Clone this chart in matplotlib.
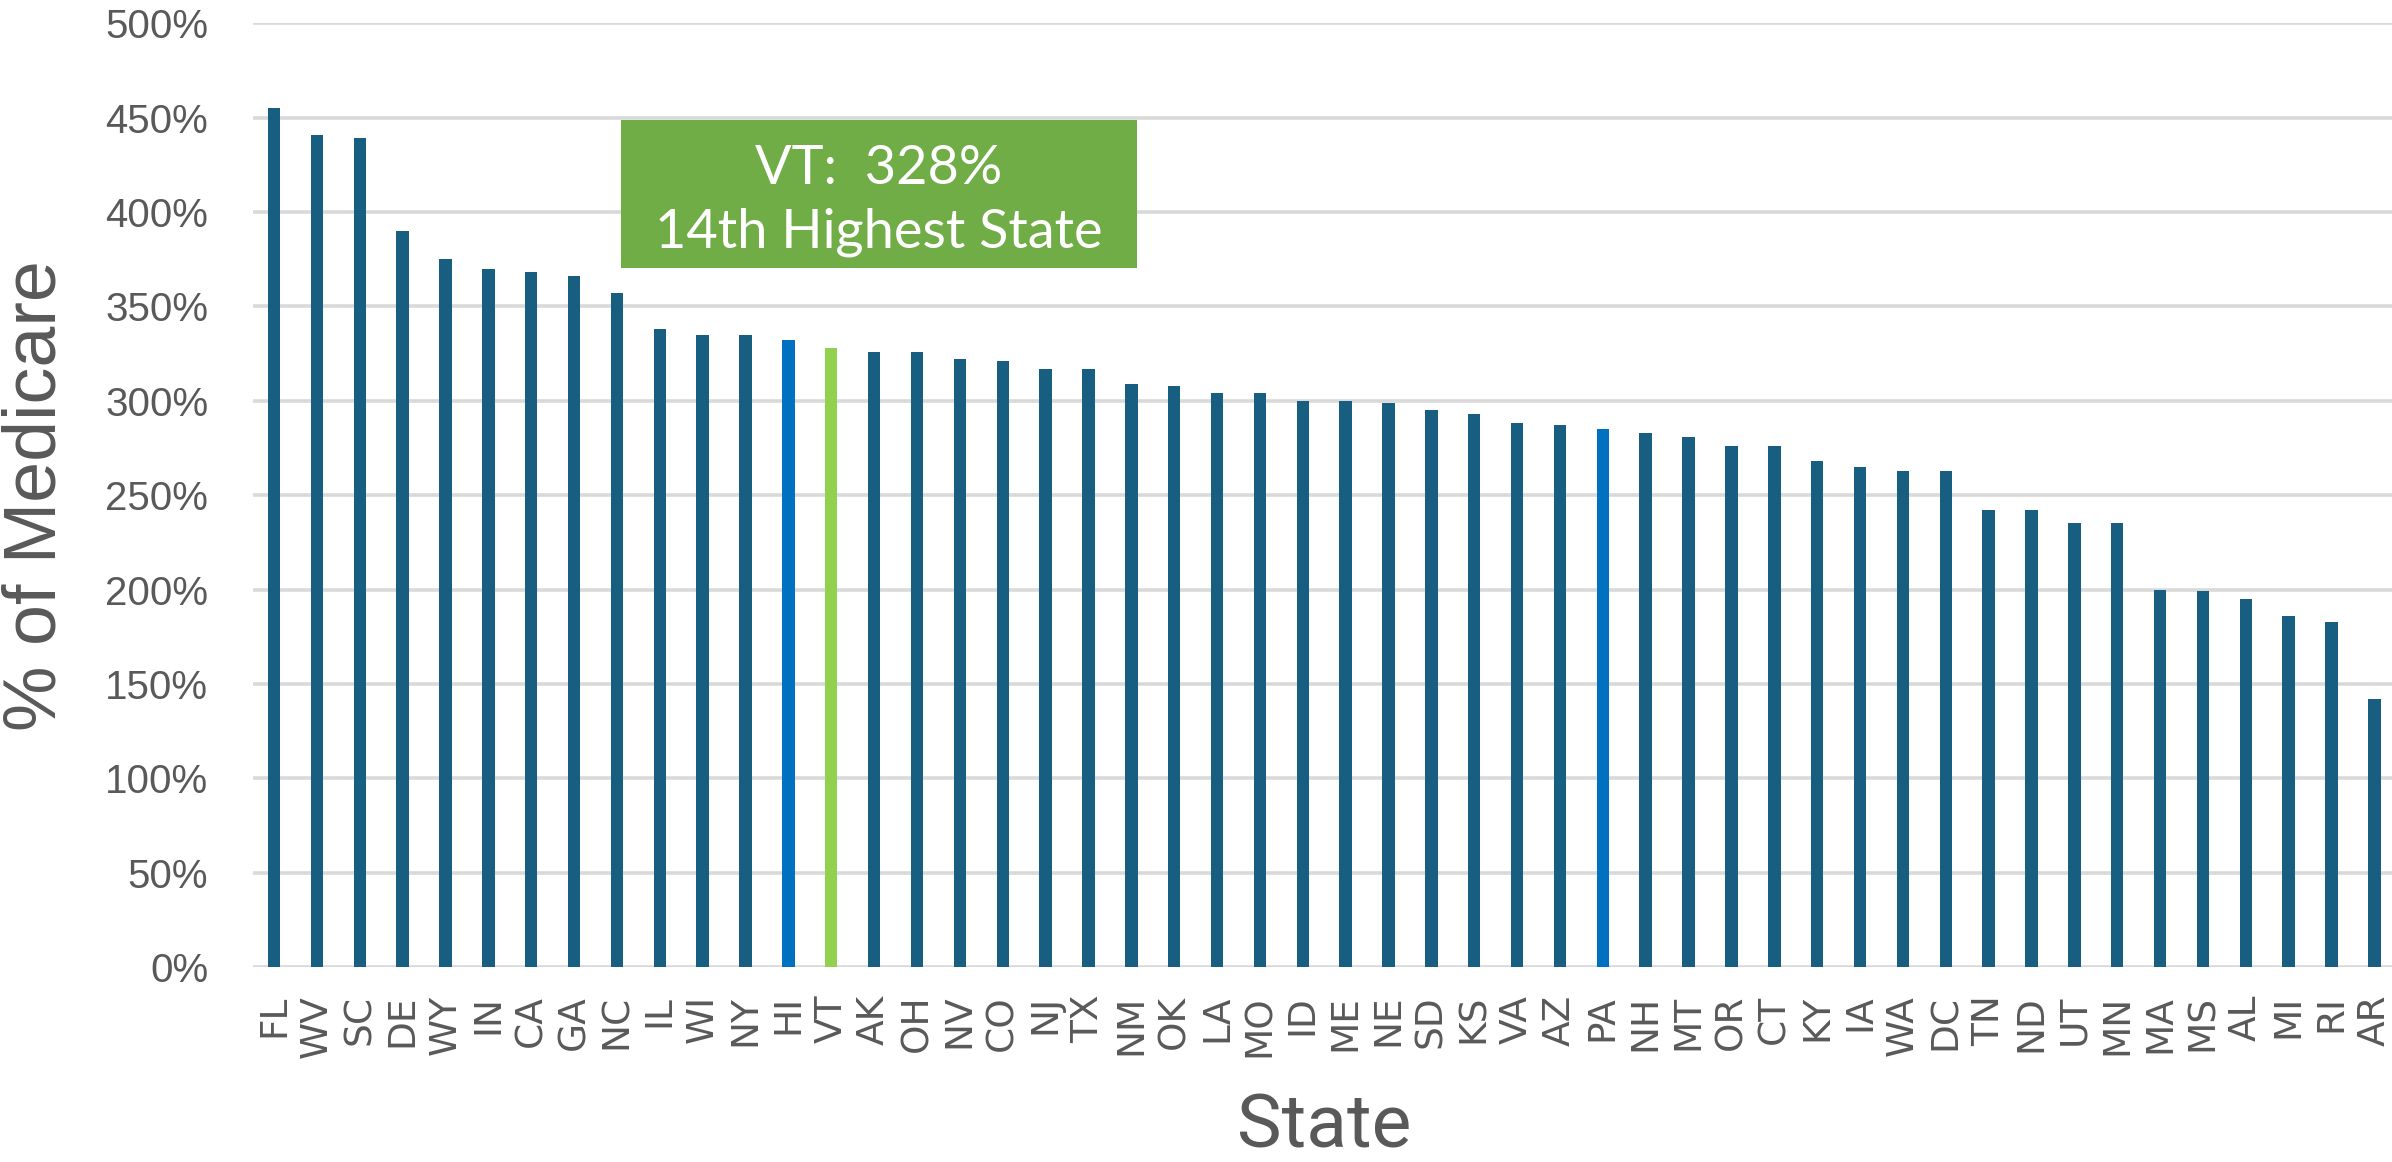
import matplotlib
matplotlib.use("Agg")
import matplotlib.pyplot as plt
from matplotlib.patches import Rectangle

# Data: % of Medicare by state
states = ['FL', 'WV', 'SC', 'DE', 'WY', 'IN', 'CA', 'GA', 'NC', 'IL', 'WI', 'NY', 'HI',
          'VT', 'AK', 'OH', 'NV', 'CO', 'NJ', 'TX', 'NM', 'OK', 'LA', 'MO', 'ID', 'ME',
          'NE', 'SD', 'KS', 'VA', 'AZ', 'PA', 'NH', 'MT', 'OR', 'CT', 'KY', 'IA', 'WA',
          'DC', 'TN', 'ND', 'UT', 'MN', 'MA', 'MS', 'AL', 'MI', 'RI', 'AR']
pct = [455, 441, 439, 390, 375, 370, 368, 366, 357, 338, 335, 335, 332,
       328, 326, 326, 322, 321, 317, 317, 309, 308, 304, 304, 300, 300,
       299, 295, 293, 288, 287, 285, 283, 281, 276, 276, 268, 265, 263,
       263, 242, 242, 235, 235, 200, 199, 195, 186, 183, 142]
highlight_blue = ['HI', 'PA']
highlight_green = ['VT']
yticks = [0, 50, 100, 150, 200, 250, 300, 350, 400, 450, 500]

dark = '#175E80'
blue = '#0070C0'
green = '#92D050'
box_green = '#70AD47'
grey = '#595959'

colors = []
for s in states:
    if s in highlight_green:
        colors.append(green)
    elif s in highlight_blue:
        colors.append(blue)
    else:
        colors.append(dark)

W, H = 2392, 1162
fig = plt.figure(figsize=(W / 100, H / 100), dpi=100)
ax = fig.add_axes([252.7 / W, (H - 967) / H, 1 - 252.7 / W, (967 - 23.3) / H])

x = list(range(len(states)))
ax.bar(x, pct, width=0.29, color=colors, zorder=3)

ax.set_xlim(-0.497, 49.41)
ax.set_ylim(0, 500)
ax.set_yticks(yticks)
ax.set_yticklabels([f'{v}%' for v in yticks], fontsize=29, color=grey,
                   family='Liberation Sans')
ax.set_xticks(x)
ax.set_xticklabels(states, rotation=90, fontsize=27, color=grey,
                   family='DejaVu Sans', va='top')
ax.tick_params(axis='y', length=0, pad=32)
ax.tick_params(axis='x', length=0, pad=20)
ax.yaxis.grid(True, color='#D9D9D9', linewidth=2.6, zorder=0)
ax.set_axisbelow(True)
for sp in ax.spines.values():
    sp.set_visible(False)

fig.text(36 / W, 1 - 496 / H, '% of Medicare', rotation=90, fontsize=53,
         color=grey, family='Liberation Sans', ha='center', va='center')
fig.text(1324 / W, 1 - 1127 / H, 'State', fontsize=54, color=grey,
         family='Roboto', ha='center', va='center')

# annotation box
box_x0, box_x1 = 8.09, 20.13
box_y0, box_y1 = 370.3, 448.9
ax.add_patch(Rectangle((box_x0, box_y0), box_x1 - box_x0, box_y1 - box_y0,
                       facecolor=box_green, edgecolor='none', zorder=5))
cx = (box_x0 + box_x1) / 2
ax.text(cx, 425.7, 'VT:  328%', fontsize=39, color='white', family='Lato',
        ha='center', va='center_baseline', zorder=6)
ax.text(cx, 392, '14th Highest State', fontsize=39, color='white', family='Lato',
        ha='center', va='center_baseline', zorder=6)

fig.savefig('out.png', dpi=100)
